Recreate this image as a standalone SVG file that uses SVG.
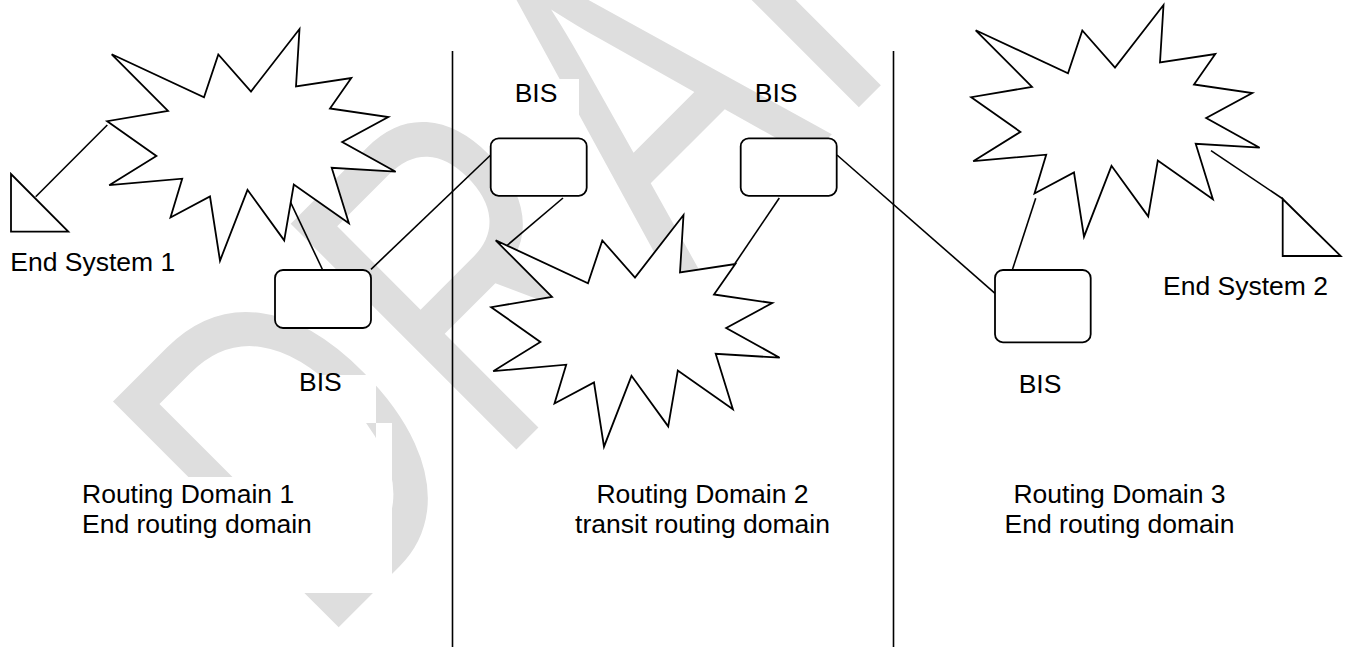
<svg xmlns="http://www.w3.org/2000/svg" xmlns:xlink="http://www.w3.org/1999/xlink" width="1348" height="662" viewBox="0 0 1348 662">
<defs>
<style>
.ln{stroke:#000;stroke-width:1.6;fill:none}
.sh{fill:#fff;stroke:#000;stroke-width:1.8;stroke-linejoin:miter}
.bx{fill:#fff;stroke:#000;stroke-width:1.8}
.tb{fill:#fff;stroke:none}
text{font-family:"Liberation Sans",Arial,sans-serif;font-size:26.5px;fill:#000}
.wm{fill:#dedede;font-size:464px;letter-spacing:14px}
.c{text-anchor:middle}
</style>
<path id="burst" d="M111.7,54.3 L204,97.2 L218.3,54.5 L251,91.5 L299.5,29 L296,86.5 L351.3,78 L330,108.5 L388.3,117 L342.2,142 L395.7,171.7 L331.7,167.8 L348.9,223.2 L293.8,184.5 L284.2,240.4 L247.5,189.8 L220,260.7 L210,196.5 L170.5,217.5 L182.2,178.7 L109.2,185.2 L156.4,155.9 L107.2,121.2 L168,110.9 Z"/>
</defs>
<rect width="1348" height="662" fill="#fff"/>
<g id="watermark">
<text class="wm" transform="translate(319.3,646.7) rotate(-45) scale(0.72,1)">DRAFT</text>
</g>
<g id="textboxes">
<rect class="tb" x="490" y="79" width="89" height="41"/>
<rect class="tb" x="280" y="375" width="96" height="48"/>
<rect class="tb" x="376" y="423" width="16" height="54"/>
<rect class="tb" x="60" y="477" width="332" height="116"/>
</g>
<g id="dividers">
<line class="ln" x1="452.5" y1="51" x2="452.5" y2="647"/>
<line class="ln" x1="893.5" y1="51" x2="893.5" y2="647"/>
</g>
<g id="connectors">
<line class="ln" x1="35.7" y1="196.7" x2="107.3" y2="125"/>
<line class="ln" x1="288.7" y1="198.3" x2="322.7" y2="270"/>
<line class="ln" x1="371" y1="269.3" x2="490.7" y2="155"/>
<line class="ln" x1="563" y1="198" x2="507" y2="245.5"/>
<line class="ln" x1="779.3" y1="198" x2="735" y2="263.5"/>
<line class="ln" x1="837" y1="155" x2="995" y2="293.3"/>
<line class="ln" x1="1012.3" y1="270" x2="1035.7" y2="198.3"/>
<line class="ln" x1="1211" y1="150.7" x2="1283" y2="199"/>
</g>
<g id="domain1-network"><use xlink:href="#burst" class="sh"/></g>
<g id="domain2-network"><use xlink:href="#burst" class="sh" transform="translate(384,186)"/></g>
<g id="domain3-network"><use xlink:href="#burst" class="sh" transform="translate(864,-24)"/></g>
<g id="end-system-1">
<polygon class="sh" points="11,174 11,231.7 68.3,231.7"/>
<text x="10.3" y="270.7">End System 1</text>
</g>
<g id="end-system-2">
<polygon class="sh" points="1282.7,199 1282.7,256 1340.7,256"/>
<text x="1163" y="295">End System 2</text>
</g>
<g id="bis-1">
<rect class="bx" x="275" y="270" width="96" height="58" rx="8"/>
<text class="c" x="320.4" y="390.7">BIS</text>
</g>
<g id="bis-2">
<rect class="bx" x="490.7" y="138.3" width="96" height="57.5" rx="8"/>
<text class="c" x="536" y="102.3">BIS</text>
</g>
<g id="bis-3">
<rect class="bx" x="740.7" y="138.3" width="96" height="57.5" rx="8"/>
<text class="c" x="776.2" y="102.3">BIS</text>
</g>
<g id="bis-4">
<rect class="bx" x="995" y="270" width="95.7" height="72.3" rx="8"/>
<text class="c" x="1040" y="393">BIS</text>
</g>
<g id="domain1-label">
<text x="82" y="502.7">Routing Domain 1</text>
<text x="82" y="532.7">End routing domain</text>
</g>
<g id="domain2-label">
<text class="c" x="702.5" y="503">Routing Domain 2</text>
<text class="c" x="702.5" y="532.5">transit routing domain</text>
</g>
<g id="domain3-label">
<text class="c" x="1119.5" y="503">Routing Domain 3</text>
<text class="c" x="1119.5" y="532.5">End routing domain</text>
</g>
</svg>
